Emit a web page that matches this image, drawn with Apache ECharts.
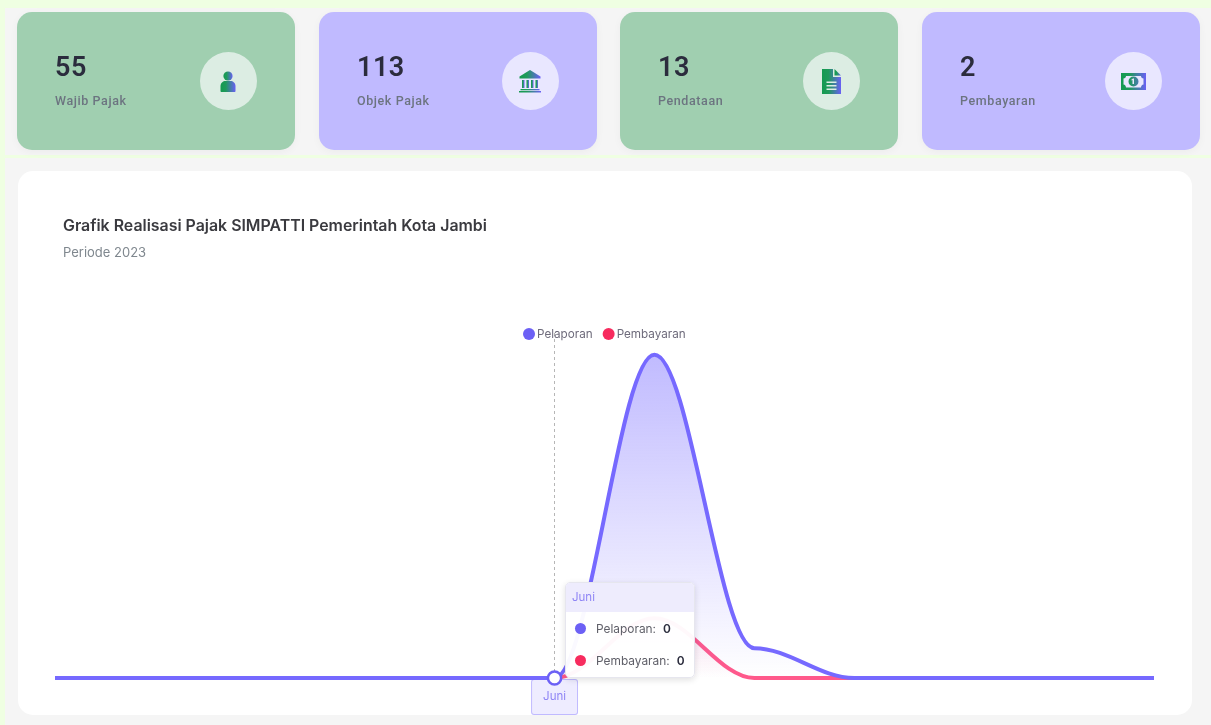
<!DOCTYPE html>
<html>
<head>
<meta charset="utf-8">
<title>Grafik Realisasi Pajak</title>
<script src="https://cdn.jsdelivr.net/npm/echarts@6/dist/echarts.min.js"></script>
<style>
html, body { margin: 0; padding: 0; width: 1211px; height: 725px; overflow: hidden; background: #efffe2; font-family: Roboto, sans-serif; }
#page { position: absolute; left: 0; top: 0; width: 1211px; height: 725px; filter: blur(.4px); }
.band { position: absolute; background: #f5f5f5; }
.card { position: absolute; top: 12px; width: 278px; height: 138px; border-radius: 15px; box-shadow: 0 2px 8px rgba(0,0,0,.04); }
.card .num { position: absolute; left: 38px; top: 38px; font-size: 27px; line-height: 34px; font-weight: 600; color: #2b2c3d; letter-spacing: .5px; }
.card .lbl { position: absolute; left: 38px; top: 81px; font-size: 12.5px; line-height: 16px; font-weight: 500; color: #6c7480; letter-spacing: .6px; }
.card .circle { position: absolute; left: 183px; top: 40px; width: 57px; height: 58px; border-radius: 50%; }
.card svg { position: absolute; left: 16px; top: 17px; width: 25px; height: 25px; }
.panel { position: absolute; left: 18px; top: 171px; width: 1174px; height: 544px; background: #fff; border-radius: 15px; }
#chart { position: absolute; left: 0; top: 0; width: 1211px; height: 725px; }
</style>
</head>
<body>
<div id="page">
<div class="band" style="left:5px;top:8px;width:1206px;height:147px"></div>
<div class="band" style="left:5px;top:158px;width:1206px;height:567px"></div>
<div id="cards"></div>
<div class="panel"></div>
<div id="chart"></div>
</div>
<script>
var cardValues = ['55', '113', '13', '2'];
var cardLabels = ['Wajib Pajak', 'Objek Pajak', 'Pendataan', 'Pembayaran'];
var months = ['Januari', 'Februari', 'Maret', 'April', 'Mei', 'Juni', 'Juli', 'Agustus', 'September', 'Oktober', 'November', 'Desember'];
var pelaporan = [0, 0, 0, 0, 0, 0, 13, 1.2, 0, 0, 0, 0];
var pembayaran = [0, 0, 0, 0, 0, 0, 2.4, 0, 0, 0, 0, 0];
var activeMonth = 5;

var purple = '#6c60f5';
var red = '#f72b5e';
var seriesColors = { Pelaporan: purple, Pembayaran: red };

var cardLeft = [17, 319, 620, 922];
var cardBg = ['#a0cfb0', '#c0baff', '#a0cfb0', '#c0baff'];
var circleBg = ['#dcede3', '#e9e7ff', '#dcede3', '#e9e7ff'];
var icons = [
    '<circle cx="12" cy="7" r="4.6"/><path d="M4.5 22v-5c0-3 2.5-5 5-5h5c2.5 0 5 2 5 5v5c0 .6-.5 1-1 1H5.500c-.5 0-1-.4-1-1z"/>',
    '<path d="M12 1 1.500 7.500v2h21v-2z"/><rect x="4" y="11" width="2.500" height="8"/><rect x="8.500" y="11" width="2.500" height="8"/><rect x="13" y="11" width="2.500" height="8"/><rect x="17.500" y="11" width="2.500" height="8"/><rect x="2.500" y="20" width="19" height="1.300"/><rect x="1" y="22" width="22" height="1.500"/>',
    '<path fill-rule="evenodd" d="M3 0h11v8h8v17H3zM7.500 12.500v1.500h10v-1.500zM7.500 16v1.500h10V16zM7.500 19.500V21h10v-1.500z"/><path d="M15.500 0 22 6.500h-6.500z"/>',
    '<path fill-rule="evenodd" d="M0 4h25v17H0zM5 7c0 1.500-1 2.500-2.500 2.500v6C4 15.500 5 17 5 18.500h15c0-1.500 1-3 2.500-3v-6C21 9.500 20 8.500 20 7zM12.500 7.500a5 5 0 1 1 0 10 5 5 0 0 1 0-10zM12 9.500l-1.500 1v1l1-.5v4h1.500V9.500z"/>'
];

var cardsHtml = '';
for (var i = 0; i < cardValues.length; i++) {
    cardsHtml += '<div class="card" style="left:' + cardLeft[i] + 'px;background:' + cardBg[i] + '">'
        + '<div class="num">' + cardValues[i] + '</div>'
        + '<div class="lbl">' + cardLabels[i] + '</div>'
        + '<div class="circle" style="background:' + circleBg[i] + '">'
        + '<svg viewBox="0 0 25 25"><defs><linearGradient id="ig' + i + '" x1="0" y1="0" x2="1" y2="0">'
        + '<stop offset="0" stop-color="#149a50"/><stop offset=".35" stop-color="#1f9a5b"/><stop offset="1" stop-color="#6a5ff5"/></linearGradient></defs>'
        + '<g fill="url(#ig' + i + ')">' + icons[i] + '</g></svg>'
        + '</div></div>';
}
document.getElementById('cards').innerHTML = cardsHtml;

function withMarker(values) {
    return values.map(function (v, idx) {
        if (idx !== activeMonth) return v;
        return {
            value: v,
            symbol: 'circle',
            symbolSize: 12,
            itemStyle: { color: '#e9e7ff', borderColor: purple, borderWidth: 2.5 }
        };
    });
}

var myChart = echarts.init(document.getElementById('chart'));
var option = {
    animation: false,
    title: {
        left: 63,
        top: 218,
        padding: 0,
        itemGap: 13,
        text: 'Grafik Realisasi Pajak SIMPATTI Pemerintah Kota Jambi',
        subtext: 'Periode 2023',
        textStyle: { fontFamily: 'Inter', fontSize: 15.9, fontWeight: 600, color: '#3a3a3f' },
        subtextStyle: { fontFamily: 'Inter', fontSize: 13, color: '#7f878e' }
    },
    legend: {
        left: 523,
        top: 328,
        padding: 0,
        icon: 'circle',
        itemWidth: 12,
        itemHeight: 12,
        itemGap: 10,
        textStyle: { fontFamily: 'Inter', fontSize: 11.7, color: '#6e6b7b', padding: [0, 0, 0, -3] },
        data: ['Pelaporan', 'Pembayaran']
    },
    grid: { left: 55, right: 57, top: 330, bottom: 47, containLabel: false },
    tooltip: {
        trigger: 'axis',
        triggerOn: 'none',
        alwaysShowContent: true,
        transitionDuration: 0,
        padding: 0,
        borderWidth: 1,
        borderColor: '#e6e6ee',
        backgroundColor: 'rgba(255,255,255,.96)',
        position: [565, 582],
        extraCssText: 'width:130px;height:96px;box-sizing:border-box;border-radius:5px;box-shadow:0 2px 6px rgba(0,0,0,.12);overflow:hidden;',
        axisPointer: {
            type: 'line',
            z: 1,
            lineStyle: { color: '#b6b6b6', width: 1, type: [3, 3] },
            label: {
                show: true,
                formatter: function () { return months[activeMonth].slice(0, 4); },
                fontFamily: 'Inter',
                fontSize: 11.5,
                color: '#8f85f5',
                backgroundColor: '#eeecff',
                borderColor: '#c0baff',
                borderWidth: 1,
                borderRadius: 2,
                padding: [11, 11],
                margin: 2,
                shadowBlur: 0
            }
        },
        formatter: function (params) {
            var html = '<div style="height:29px;background:#eeecfd;color:#8f85f5;font:11.5px/28px Inter;padding-left:6px">Juni</div>';
            params.forEach(function (p, k) {
                var val = typeof p.value === 'object' ? p.value.value : p.value;
                html += '<div style="height:32px;margin-top:' + (k === 0 ? 1 : 0) + 'px;font:11.9px/32px Inter;color:#5f5f68;padding-left:9px;white-space:nowrap">'
                    + '<span style="display:inline-block;width:11px;height:11px;border-radius:50%;vertical-align:-1px;margin-right:10px;background:' + seriesColors[p.seriesName] + '"></span>'
                    + p.seriesName + ':<b style="margin-left:7px;color:#2b2c3d;font-weight:600">' + val + '</b></div>';
            });
            return html;
        }
    },
    xAxis: {
        type: 'category',
        boundaryGap: false,
        data: months,
        axisLine: { show: false },
        axisTick: { show: false },
        axisLabel: { show: false },
        splitLine: { show: false }
    },
    yAxis: {
        type: 'value',
        min: 0,
        max: 14,
        axisLine: { show: false },
        axisTick: { show: false },
        axisLabel: { show: false },
        splitLine: { show: false }
    },
    series: [
        {
            name: 'Pelaporan',
            type: 'line',
            z: 3,
            smooth: 0.35,
            smoothMonotone: 'x',
            clip: false,
            symbol: 'none',
            data: withMarker(pelaporan),
            itemStyle: { color: purple },
            lineStyle: { width: 4, color: purple },
            areaStyle: {
                color: new echarts.graphic.LinearGradient(0, 0, 0, 1, [
                    { offset: 0, color: 'rgba(108,96,245,.65)' },
                    { offset: 1, color: 'rgba(108,96,245,0)' }
                ])
            }
        },
        {
            name: 'Pembayaran',
            type: 'line',
            z: 2,
            smooth: 0.35,
            smoothMonotone: 'x',
            clip: false,
            symbol: 'none',
            data: pembayaran,
            itemStyle: { color: red },
            lineStyle: { width: 4, color: '#fb517f' },
            areaStyle: {
                color: new echarts.graphic.LinearGradient(0, 0, 0, 1, [
                    { offset: 0, color: 'rgba(247,43,94,.18)' },
                    { offset: 1, color: 'rgba(247,43,94,0)' }
                ])
            }
        }
    ]
};
myChart.setOption(option);
myChart.dispatchAction({ type: 'showTip', seriesIndex: 0, dataIndex: activeMonth });
</script>
</body>
</html>
